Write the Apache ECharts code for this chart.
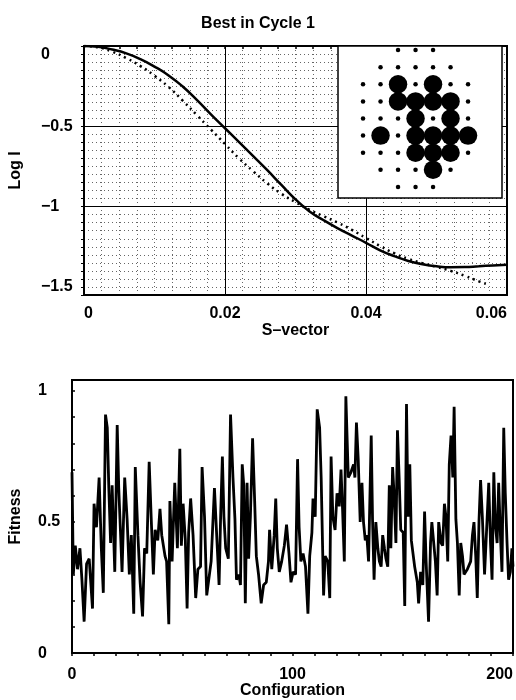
<!DOCTYPE html>
<html><head><meta charset="utf-8">
<script src="https://cdn.jsdelivr.net/npm/echarts@6/dist/echarts.min.js"></script>
<style>html,body{margin:0;padding:0;background:#fff}#c{width:516px;height:700px}</style>
</head><body><div id="c"></div><script>
// ---- Top chart: scattering curves ----
const sVector = [0,0.002,0.004,0.006,0.008,0.010,0.012,0.014,0.016,0.018,0.020,0.022,0.024,0.026,0.028,0.030,0.032,0.034,0.036,0.038,0.040,0.042,0.044,0.046,0.048,0.050,0.052,0.054,0.056,0.058,0.060];
const logIBest = [0,-0.005,-0.022,-0.046,-0.082,-0.128,-0.183,-0.252,-0.335,-0.425,-0.512,-0.598,-0.685,-0.773,-0.865,-0.955,-1.03,-1.085,-1.135,-1.18,-1.225,-1.272,-1.308,-1.338,-1.358,-1.371,-1.377,-1.376,-1.371,-1.366,-1.362];
const sVectorDotted = [0,0.002,0.004,0.006,0.008,0.010,0.012,0.014,0.016,0.018,0.020,0.022,0.024,0.026,0.028,0.030,0.032,0.034,0.036,0.038,0.040,0.042,0.044,0.046,0.048,0.050,0.052,0.054,0.056,0.057];
const logIDotted = [0,-0.008,-0.035,-0.075,-0.125,-0.185,-0.255,-0.34,-0.43,-0.52,-0.61,-0.70,-0.78,-0.855,-0.92,-0.972,-1.02,-1.06,-1.10,-1.145,-1.195,-1.245,-1.29,-1.325,-1.352,-1.375,-1.40,-1.43,-1.465,-1.48];
const majorX = [0.02, 0.04];
const majorY = [-0.5, -1];
const topXLabels = [0, 0.02, 0.04, 0.06];
const topYLabels = [0, -0.5, -1, -1.5];

// ---- Inset: lattice (row, column, occupied) ----
const latticeRow = [0,0,0, 1,1,1,1,1, 2,2,2,2,2,2,2, 3,3,3,3,3,3,3, 4,4,4,4,4,4,4, 5,5,5,5,5,5,5, 6,6,6,6,6,6,6, 7,7,7,7,7, 8,8,8];
const latticeCol = [2,3,4, 1,2,3,4,5, 0,1,2,3,4,5,6, 0,1,2,3,4,5,6, 0,1,2,3,4,5,6, 0,1,2,3,4,5,6, 0,1,2,3,4,5,6, 1,2,3,4,5, 2,3,4];
const latticeOcc = [0,0,0, 0,0,0,0,0, 0,0,1,0,1,0,0, 0,0,1,1,1,1,0, 0,0,0,1,0,1,0, 0,1,0,1,1,1,1, 0,0,0,1,1,1,0, 0,0,0,1,0, 0,0,0];

// ---- Bottom chart: fitness per configuration ----
const configuration = [0,0.6,1.5,2.5,3.6,4.5,5.5,6.6,7.8,9.3,10.0,11.1,12.3,13.3,14.2,15.2,16.0,16.7,17.5,18.2,19.4,20.5,21.2,22.0,22.7,23.9,25.0,26.0,26.9,28.0,28.7,29.9,30.9,32.0,32.9,33.9,35.0,35.9,36.9,37.7,38.9,39.9,40.7,42.2,42.9,43.9,44.4,45.4,46.6,47.8,48.9,49.6,50.4,51.4,52.2,52.9,53.8,54.9,56.1,57.1,58.3,59.0,60.1,61.1,63.1,64.6,
65.9,66.7,67.4,68.2,68.9,69.7,70.9,71.9,73.0,73.9,74.6,75.7,76.4,77.2,77.9,78.6,79.4,80.1,80.9,81.9,82.8,83.6,84.6,85.8,86.9,88.1,89.1,89.6,90.6,91.7,92.4,93.1,94.0,95.1,96.3,97.3,98.4,99.3,100.3,101.4,102.3,103.0,103.8,104.8,105.9,107.0,107.8,108.8,109.3,110.3,111.2,112.3,113.0,114.1,114.8,116.0,116.9,117.5,118.3,119.3,120.2,121.2,122.0,122.7,123.5,124.2,125.3,126.5,127.7,128.3,129.0,129.8,130.7,
131.5,132.2,133.0,133.7,134.5,135.7,136.3,137.0,137.8,138.7,139.4,140.2,140.9,141.7,142.4,143.2,143.9,144.6,145.4,146.1,146.9,147.6,148.4,149.1,150.2,150.9,151.7,152.4,153.2,153.9,155.4,156.6,157.2,158.1,159.1,159.9,160.6,161.7,162.6,163.2,164.1,164.8,165.6,166.3,167.4,168.1,168.9,169.6,170.4,171.1,171.9,172.7,173.3,174.1,174.8,175.6,176.3,177.1,177.8,179.3,180.8,181.6,182.3,183.1,183.8,184.6,185.3,186.1,187.1,188.3,189.0,189.8,190.5,191.3,192.0,192.8,193.5,194.3,195.0,195.8,196.5,197.3,198.0,198.8,199.5,200];
const fitness = [0.69,0.30,0.41,0.32,0.40,0.28,0.12,0.34,0.36,0.17,0.57,0.48,0.67,0.40,0.23,0.91,0.86,0.63,0.42,0.64,0.31,0.87,0.63,0.46,0.31,0.67,0.51,0.30,0.45,0.15,0.71,0.45,0.27,0.14,0.40,0.38,0.73,0.52,0.30,0.47,0.43,0.55,0.45,0.37,0.35,0.11,0.58,0.35,0.65,0.40,0.78,0.41,0.57,0.43,0.17,0.46,0.59,0.45,0.21,0.32,0.33,0.71,0.52,0.22,0.35,0.63,
0.40,0.26,0.52,0.75,0.52,0.40,0.36,0.91,0.67,0.51,0.28,0.30,0.26,0.72,0.64,0.19,0.65,0.36,0.52,0.82,0.59,0.37,0.30,0.19,0.26,0.27,0.35,0.47,0.32,0.45,0.59,0.40,0.31,0.35,0.41,0.49,0.38,0.27,0.31,0.30,0.74,0.48,0.35,0.38,0.33,0.15,0.37,0.46,0.59,0.52,0.93,0.86,0.67,0.22,0.37,0.35,0.21,0.75,0.52,0.47,0.61,0.56,0.70,0.55,0.35,0.98,0.67,0.69,0.72,0.67,0.88,0.74,0.50,
0.65,0.50,0.43,0.45,0.35,0.83,0.51,0.28,0.50,0.40,0.35,0.33,0.45,0.40,0.36,0.33,0.64,0.40,0.71,0.60,0.42,0.85,0.66,0.47,0.46,0.18,0.95,0.52,0.72,0.43,0.33,0.27,0.19,0.31,0.26,0.54,0.35,0.12,0.42,0.50,0.50,0.35,0.22,0.50,0.42,0.41,0.57,0.52,0.35,0.72,0.83,0.67,0.94,0.51,0.42,0.22,0.42,0.37,0.30,0.32,0.35,0.45,0.50,0.37,0.21,0.51,0.66,0.52,0.30,0.52,0.65,0.42,0.28,0.69,0.49,0.42,0.65,0.45,0.31,0.86,0.61,0.42,0.28,0.31,0.40,0.33];
const bottomXLabels = [0, 100, 200];
const bottomYLabels = [0, 0.5, 1];

const FONT = '"Liberation Sans", Arial, Helvetica, sans-serif';
const near = (v, arr) => arr.some(a => Math.abs(a - v) < 1e-7);
const lbl = {fontFamily: FONT, fontSize: 16, fontWeight: 'bold', color: '#000'};
const zip = (a, b) => a.map((x, i) => [x, b[i]]);

const chart = echarts.init(document.getElementById('c'), null, {renderer: 'canvas'});
chart.setOption({
  animation: false,
  backgroundColor: '#fff',
  title: {text: 'Best in Cycle 1', left: 'center', top: 11, textStyle: Object.assign({}, lbl, {fontSize: 16})},
  grid: [
    {left: 78, top: 46, width: 429, height: 249, show: true, borderColor: '#000', borderWidth: 2, z: 1},
    {left: 338, top: 46, width: 164, height: 152, show: true, backgroundColor: '#fff', borderColor: '#000', borderWidth: 1.5, z: 10},
    {left: 68, top: 380, width: 446, height: 275, show: true, borderColor: '#000', borderWidth: 2, z: 1}
  ],
  xAxis: [
    {gridIndex: 0, type: 'value', min: 0, max: 0.06, interval: 0.0025,
     name: 'S\u2013vector', nameLocation: 'middle', nameGap: 25, nameTextStyle: lbl,
     axisLine: {lineStyle: {color: '#000', width: 2}},
     axisTick: {show: true, length: 3, lineStyle: {color: '#000', width: 1.5}},
     splitLine: {show: true, lineStyle: {color: '#666', width: 1, type: [1, 3]}},
     axisLabel: Object.assign({}, lbl, {margin: 11, alignMinLabel: 'left', alignMaxLabel: 'right',
       formatter: v => near(v, topXLabels) ? (Math.abs(v) < 1e-9 ? '0' : v.toFixed(2)) : ''})},
    {gridIndex: 1, type: 'value', min: -1.43, max: 7.94, show: false},
    {gridIndex: 2, type: 'value', min: 0, max: 200, interval: 10,
     name: 'Configuration', nameLocation: 'middle', nameGap: 28, nameTextStyle: lbl,
     axisLine: {lineStyle: {color: '#000', width: 2}},
     axisTick: {show: true, length: 3, lineStyle: {color: '#000', width: 1.5}},
     splitLine: {show: false},
     axisLabel: Object.assign({}, lbl, {margin: 13, alignMaxLabel: 'right',
       formatter: v => near(v, bottomXLabels) ? String(Math.round(v)) : ''})}
  ],
  yAxis: [
    {gridIndex: 0, type: 'value', min: -1.55, max: 0, interval: 0.05,
     name: 'Log I', nameLocation: 'middle', nameGap: 60, nameTextStyle: lbl,
     axisLine: {lineStyle: {color: '#000', width: 2}},
     axisTick: {show: true, length: 3, lineStyle: {color: '#000', width: 1}},
     splitLine: {show: true, lineStyle: {color: '#666', width: 1, type: [1, 3]}},
     axisLabel: Object.assign({}, lbl, {align: 'left', margin: 43,
       formatter: v => {
         if (!near(v, topYLabels)) return '';
         if (Math.abs(v) < 1e-9) return '{z|0}';
         return String(Math.round(v * 10) / 10).replace('-', '\u2212');
       },
       rich: {z: {fontFamily: FONT, fontSize: 16, fontWeight: 'bold', color: '#000', padding: [18, 0, 0, 0]}}})},
    {gridIndex: 1, type: 'value', inverse: true, min: -0.24, max: 8.65, show: false},
    {gridIndex: 2, type: 'value', min: 0, max: 1.042, interval: 0.1,
     name: 'Fitness', nameLocation: 'middle', nameGap: 48, nameTextStyle: lbl,
     axisLine: {lineStyle: {color: '#000', width: 2}},
     axisTick: {show: true, inside: true, length: 3, lineStyle: {color: '#000', width: 1.5}},
     splitLine: {show: false},
     axisLabel: Object.assign({}, lbl, {align: 'left', margin: 34,
       formatter: v => near(v, bottomYLabels) ? String(Math.round(v * 10) / 10) : ''})}
  ],
  series: [
    {type: 'line', xAxisIndex: 0, yAxisIndex: 0, data: zip(sVector, logIBest), smooth: true,
     showSymbol: false, lineStyle: {color: '#000', width: 2.5}, z: 3,
     markLine: {silent: true, symbol: 'none', label: {show: false},
       lineStyle: {color: '#000', width: 1, type: 'solid'},
       data: majorX.map(x => ({xAxis: x})).concat(majorY.map(y => ({yAxis: y})))}},
    {type: 'line', xAxisIndex: 0, yAxisIndex: 0, data: zip(sVectorDotted, logIDotted), smooth: true,
     showSymbol: false, lineStyle: {color: '#000', width: 2.5, type: [2, 4]}, z: 3},
    {type: 'scatter', xAxisIndex: 1, yAxisIndex: 1, z: 12,
     data: latticeCol.map((c, i) => [c, latticeRow[i], latticeOcc[i]]),
     symbolSize: d => d[2] ? 18.5 : 4.5,
     itemStyle: {color: '#000', opacity: 1}},
    {type: 'line', xAxisIndex: 2, yAxisIndex: 2, data: zip(configuration, fitness),
     showSymbol: false, lineStyle: {color: '#000', width: 2.8}, z: 3}
  ]
});
</script></body></html>
